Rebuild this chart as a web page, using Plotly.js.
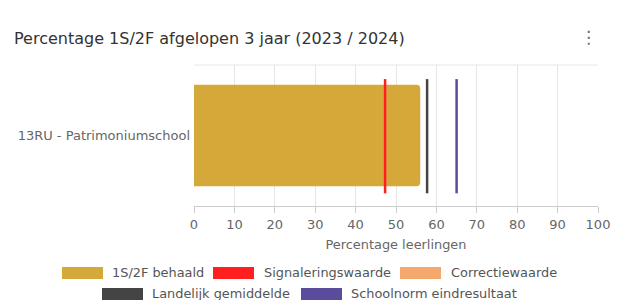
<!DOCTYPE html>
<html>
<head>
<meta charset="utf-8">
<script src="https://cdn.plot.ly/plotly-3.0.1.min.js"></script>
<style>html,body{margin:0;padding:0;background:#fff;}#chart{width:621px;height:300px;}</style>
</head>
<body>
<div id="chart"></div>
<script>
// ---- data ----
const categories = ["13RU - Patrimoniumschool"];
const behaald = [56];
const lineNames = ["Signaleringswaarde", "Landelijk gemiddelde", "Schoolnorm eindresultaat"];
const lineValues = [47.3, 57.7, 65];
const lineColors = ["#ff1f1f", "#444444", "#5b4b9b"];
const legendNames = ["1S/2F behaald", "Signaleringswaarde", "Correctiewaarde", "Landelijk gemiddelde", "Schoolnorm eindresultaat"];
const legendColors = ["#d4a93a", "#ff1f1f", "#f5a86e", "#444444", "#5b4b9b"];
const xTicks = [0, 10, 20, 30, 40, 50, 60, 70, 80, 90, 100];

// ---- layout helpers ----
const W = 621, H = 300, L = 194, R = 23, T = 65, B = 94;
const pw = W - L - R, ph = H - T - B;
const px = p => (p - L) / pw;
const py = p => (H - B - p) / ph;
const FONT = "DejaVu Sans, sans-serif";

const traces = [{
  type: "bar", orientation: "h", y: categories, x: behaald,
  marker: {color: "#d4a93a", cornerradius: 4}, hoverinfo: "skip", showlegend: false
}];
lineValues.forEach((v, i) => {
  traces.push({
    type: "scatter", mode: "lines", x: [v, v], y: [0.09, 0.9], yaxis: "y2",
    line: {color: lineColors[i], width: 2.5}, name: lineNames[i], hoverinfo: "skip", showlegend: false
  });
});

// manual legend
const legPos = [
  {sx: 62, tx: 110, y: 272},
  {sx: 213, tx: 262, y: 272},
  {sx: 400, tx: 449, y: 272},
  {sx: 102, tx: 150, y: 293},
  {sx: 301, tx: 349, y: 293}
];
const shapes = [{type: "line", xref: "paper", yref: "paper", x0: 0, x1: 1, y0: 1, y1: 1, line: {color: "#e6e6e6", width: 1}}];
const annotations = [];
legendNames.forEach((n, i) => {
  const p = legPos[i];
  shapes.push({type: "rect", xref: "paper", yref: "paper", x0: px(p.sx), x1: px(p.sx + 41), y0: py(p.y + 7), y1: py(p.y - 5),
    fillcolor: legendColors[i], line: {width: 0}});
  annotations.push({xref: "paper", yref: "paper", x: px(p.tx), y: py(p.y), xanchor: "left", yanchor: "middle",
    text: n, showarrow: false, font: {family: FONT, size: 12.9, color: "#555"}});
});
annotations.push({xref: "paper", yref: "paper", x: px(588), y: py(37), xanchor: "center", yanchor: "middle",
  text: "⋮", showarrow: false, font: {family: "DejaVu Sans", size: 17, color: "#666"}});

const layout = {
  width: W, height: H,
  margin: {l: L, r: R, t: T, b: B},
  paper_bgcolor: "#fff", plot_bgcolor: "#fff",
  font: {family: FONT, color: "#666"},
  title: {text: "Percentage 1S/2F afgelopen 3 jaar (2023 / 2024)", xref: "container", yref: "container",
    x: 14 / W, xanchor: "left", y: 1 - 38 / H, yanchor: "middle", font: {family: FONT, size: 16, color: "#333"}},
  bargap: 0.28,
  xaxis: {range: [0, 100], tickvals: xTicks, ticktext: xTicks.map(String), showgrid: true, gridcolor: "#e6e6e6",
    zeroline: false, showline: true, linecolor: "#cccccc", ticks: "outside", ticklen: 6, tickcolor: "#cccccc",
    tickfont: {family: FONT, size: 13, color: "#666"},
    title: {text: "Percentage leerlingen", font: {family: FONT, size: 12.9, color: "#666"}, standoff: 9}, fixedrange: true},
  yaxis: {showgrid: false, zeroline: false, showline: false, ticks: "", ticklabelstandoff: 3,
    tickfont: {family: FONT, size: 13, color: "#666"}, fixedrange: true},
  yaxis2: {overlaying: "y", range: [0, 1], visible: false, fixedrange: true},
  showlegend: false,
  shapes: shapes,
  annotations: annotations
};

Plotly.newPlot("chart", traces, layout, {displayModeBar: false, staticPlot: true});
</script>
</body>
</html>
